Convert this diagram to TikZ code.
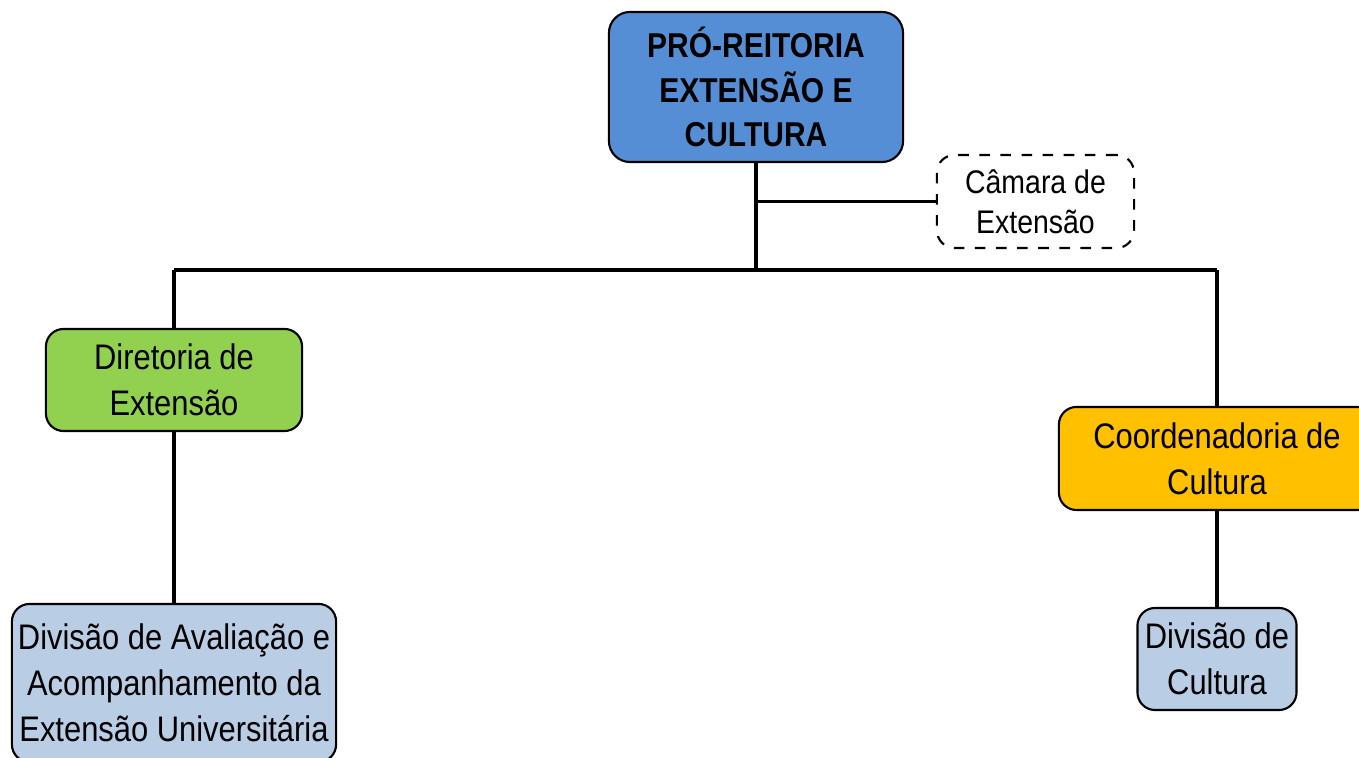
\documentclass[tikz,border=0pt]{standalone}
\usepackage{fontspec}
\setmainfont{Liberation Sans}[FakeStretch=0.87]
\definecolor{reitoriablue}{HTML}{558ED5}
\definecolor{diretoriagreen}{HTML}{92D050}
\definecolor{coordorange}{HTML}{FFC000}
\definecolor{divisaoblue}{HTML}{B9CDE5}
\newcommand{\ProReitoria}{PRÓ-REITORIA\\EXTENSÃO E\\CULTURA}
\newcommand{\Camara}{Câmara de\\Extensão}
\newcommand{\Diretoria}{Diretoria de\\Extensão}
\newcommand{\Avaliacao}{Divisão de Avaliação e\\Acompanhamento da\\Extensão Universitária}
\newcommand{\Coordenadoria}{Coordenadoria de\\Cultura}
\newcommand{\DivCultura}{Divisão de\\Cultura}

\begin{document}
\begin{tikzpicture}[x=0.01cm, y=-0.01cm,
                    unit/.style={
                        draw, line width=0.6pt, rounded corners=5pt,
                        align=center, inner sep=0pt,
                        font=\fontsize{10.1pt}{13pt}\selectfont
                    },
                    link/.style={line width=1pt}]

    \useasboundingbox (0,0) rectangle (1359,758);

    \node[unit, fill=reitoriablue, minimum width=2.94cm, minimum height=1.50cm,
          rounded corners=6pt, font=\fontsize{9.8pt}{12.6pt}\selectfont\bfseries]
        (reitoria) at (756,87) {\ProReitoria};
    \node[unit, dashed, minimum width=1.97cm, minimum height=0.93cm,
          font=\fontsize{9.3pt}{11.4pt}\selectfont]
        (camara) at (1035.5,201.5) {\Camara};
    \node[unit, fill=diretoriagreen, minimum width=2.56cm, minimum height=1.02cm]
        (diretoria) at (174,380) {\Diretoria};
    \node[unit, fill=divisaoblue, minimum width=3.24cm, minimum height=1.58cm]
        (avaliacao) at (174,683) {\Avaliacao};
    \node[unit, fill=coordorange, minimum width=3.16cm, minimum height=1.03cm]
        (coordenadoria) at (1217,458.5) {\Coordenadoria};
    \node[unit, fill=divisaoblue, minimum width=1.59cm, minimum height=1.02cm]
        (divcultura) at (1217,659) {\DivCultura};

    \coordinate (bus) at (756,270);

    \draw[link] (reitoria.south) -- (bus);
    \draw[link] (reitoria.south |- camara.west) -- (camara.west);
    \draw[link] (diretoria.north |- bus) -- (coordenadoria.north |- bus);
    \draw[link] (diretoria.north |- bus) -- (diretoria.north);
    \draw[link] (coordenadoria.north |- bus) -- (coordenadoria.north);
    \draw[link] (diretoria.south) -- (avaliacao.north);
    \draw[link] (coordenadoria.south) -- (divcultura.north);

\end{tikzpicture}
\end{document}
